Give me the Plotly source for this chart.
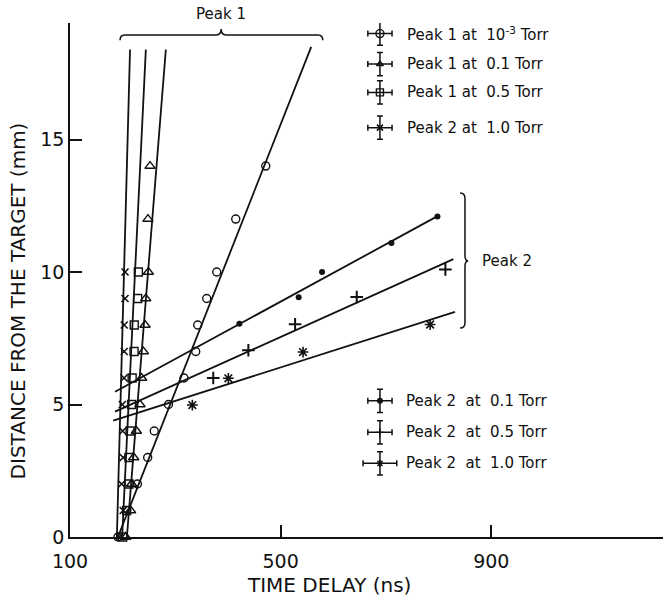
import plotly.graph_objects as go

# ---------------- data ----------------
# Peak 1 at 1e-3 Torr (open circles)
p1_vac_t = [191, 228, 247.5, 260, 287, 316.5, 338.7, 342.5, 359.6, 378.6, 414.7, 471.7]
p1_vac_d = [0, 2, 3, 4, 5, 6, 7, 8, 9, 10, 12, 14]
p1_vac_fit_t = [191, 558]
p1_vac_fit_d = [0, 18.5]

# Peak 1 at 0.1 Torr (open triangles)
p1_01_t = [206, 215, 217, 221, 226, 233, 236, 239.3, 242.5, 243.8, 248.8, 248, 252]
p1_01_d = [0, 1, 2, 3, 4, 5, 6, 7, 8, 9, 10, 12, 14]
p1_01_fit_t = [208, 282]
p1_01_fit_d = [0, 18.4]

# Peak 1 at 0.5 Torr (open squares)
p1_05_t = [200, 207.6, 212, 212, 214, 217, 218, 221.6, 222, 228.5, 229.8]
p1_05_d = [0, 1, 2, 3, 4, 5, 6, 7, 8, 9, 10]
p1_05_fit_t = [199, 244]
p1_05_fit_d = [0, 18.4]

# "Peak 2 at 1.0 Torr" steep series (x marks)
p_x10_t = [193.6, 201, 198, 201, 200, 199.4, 202.6, 203, 203, 204.5, 204.5]
p_x10_d = [0, 1, 2, 3, 4, 5, 6, 7, 8, 9, 10]
p_x10_fit_t = [189, 214]
p_x10_fit_d = [0, 18.4]

# Peak 2 at 0.1 Torr (dots)
p2_01_t = [421.6, 534.2, 578.6, 710.3, 797.7]
p2_01_d = [8.05, 9.05, 10.0, 11.1, 12.1]
p2_01_fit_t = [185.5, 797]
p2_01_fit_d = [5.48, 12.1]

# Peak 2 at 0.5 Torr (plus)
p2_05_t = [372, 438.7, 527.4, 644.5, 812.8]
p2_05_d = [6.0, 7.05, 8.03, 9.06, 10.1]
p2_05_fit_t = [185.5, 828]
p2_05_fit_d = [4.73, 10.49]

# Peak 2 at 1.0 Torr (asterisks)
p2_10_t = [332.3, 400.7, 542.5, 783.8]
p2_10_d = [4.98, 5.99, 6.98, 8.02]
p2_10_fit_t = [182, 831]
p2_10_fit_d = [4.39, 8.5]

x_ticks = [100, 500, 900]
y_ticks = [0, 5, 10, 15]

NB = "\u00a0"
legend_top_labels = [f"Peak 1 at{NB}{NB}10<sup>-3</sup>{NB}Torr", f"Peak 1 at{NB}{NB}0.1 Torr",
                     f"Peak 1 at{NB}{NB}0.5 Torr", f"Peak 2 at{NB}{NB}1.0 Torr"]
legend_bot_labels = [f"Peak 2{NB}{NB}at{NB}{NB}0.1 Torr", f"Peak 2{NB}{NB}at{NB}{NB}0.5 Torr",
                     f"Peak 2{NB}{NB}at{NB}{NB}1.0 Torr"]

# ---------------- styling / layout ----------------
FONT = "DejaVu Sans"
BLACK = "#111"
X_RANGE = [100, 1226]
Y_RANGE = [0, 19.4]

fig = go.Figure()

def add_fit(t, d):
    fig.add_trace(go.Scatter(x=t, y=d, mode="lines", line=dict(color=BLACK, width=1.8),
                             showlegend=False, hoverinfo="skip", cliponaxis=False))

def add_pts(t, d, symbol, size, lw=1.4, name=""):
    fig.add_trace(go.Scatter(x=t, y=d, mode="markers", name=name, showlegend=False,
                             cliponaxis=False,
                             marker=dict(symbol=symbol, size=size, color=BLACK,
                                         line=dict(color=BLACK, width=lw))))

for t, d in [(p1_vac_fit_t, p1_vac_fit_d), (p1_01_fit_t, p1_01_fit_d),
             (p1_05_fit_t, p1_05_fit_d), (p_x10_fit_t, p_x10_fit_d),
             (p2_01_fit_t, p2_01_fit_d), (p2_05_fit_t, p2_05_fit_d),
             (p2_10_fit_t, p2_10_fit_d)]:
    add_fit(t, d)

add_pts(p1_vac_t, p1_vac_d, "circle-open", 8, name="Peak 1 at 1e-3 Torr")
add_pts(p1_01_t, p1_01_d, "triangle-up-open", 9, name="Peak 1 at 0.1 Torr")
add_pts(p1_05_t, p1_05_d, "square-open", 8, name="Peak 1 at 0.5 Torr")
add_pts(p_x10_t, p_x10_d, "x-thin-open", 7, lw=1.6, name="Peak 2 at 1.0 Torr (steep)")
add_pts(p2_01_t, p2_01_d, "circle", 6, lw=0, name="Peak 2 at 0.1 Torr")
add_pts(p2_05_t, p2_05_d, "cross-thin-open", 9, lw=2.0, name="Peak 2 at 0.5 Torr")
add_pts(p2_10_t, p2_10_d, "asterisk-open", 9, lw=1.6, name="Peak 2 at 1.0 Torr")

# ---------- legend keys (drawn as error-bar crosses) ----------
KEY_T = 688.5
TEXT_T = 736
top_key_d = [19.0, 17.85, 16.78, 15.45]
bot_key_d = [5.14, 3.95, 2.78]
top_syms = [("circle-open", 8, 1.4), ("triangle-up-open", 6, 1.4),
            ("square-open", 7, 1.4), ("x-thin-open", 6, 1.6)]
bot_syms = [("circle", 6, 0), ("cross-thin-open", 6, 1.4), ("asterisk-open", 6, 1.4)]
bot_xerr = [23, 23, 32]

def add_key(yv, sym, xerr):
    s, sz, lw = sym
    fig.add_trace(go.Scatter(
        x=[KEY_T], y=[yv], mode="markers", showlegend=False, hoverinfo="skip", cliponaxis=False,
        error_x=dict(type="constant", value=xerr, color=BLACK, thickness=1.5, width=3),
        error_y=dict(type="constant", value=0.44, color=BLACK, thickness=1.5, width=3),
        marker=dict(symbol=s, size=sz, color=BLACK, line=dict(color=BLACK, width=lw))))

for yv, sym in zip(top_key_d, top_syms):
    add_key(yv, sym, 23)
for yv, sym, xe in zip(bot_key_d, bot_syms, bot_xerr):
    add_key(yv, sym, xe)

TXT = dict(family=FONT, size=15, color=BLACK)
annotations = []
for yv, lab in zip(top_key_d, legend_top_labels):
    annotations.append(dict(x=TEXT_T, y=yv, text=lab, xanchor="left", yanchor="middle",
                            showarrow=False, font=TXT))
for yv, lab in zip(bot_key_d, legend_bot_labels):
    annotations.append(dict(x=TEXT_T - 2, y=yv, text=lab, xanchor="left", yanchor="middle",
                            showarrow=False, font=TXT))

# brace labels
annotations.append(dict(x=387, xref="x", y=1.017, yref="paper", text="Peak 1", showarrow=False,
                        xanchor="center", yanchor="middle", font=TXT))
annotations.append(dict(x=879, y=10.42, text="Peak 2", showarrow=False, xanchor="left",
                        yanchor="middle", font=TXT))

# axis titles
TITLE = dict(family=FONT, size=20, color=BLACK)
annotations.append(dict(x=0.437, y=-0.093, xref="paper", yref="paper", text="TIME DELAY (ns)",
                        showarrow=False, xanchor="center", yanchor="middle", font=TITLE))
annotations.append(dict(x=-0.088, y=0.46, xref="paper", yref="paper",
                        text="DISTANCE FROM THE TARGET (mm)", textangle=-90,
                        showarrow=False, xanchor="center", yanchor="middle", font=TITLE))

# braces
brace1 = ("M 195,18.75 Q 195,18.95 204,18.95 L 378,18.95 Q 387,18.95 387,19.17 "
          "Q 387,18.95 396,18.95 L 571,18.95 Q 580,18.95 580,18.75")
brace2 = ("M 840.7,12.98 Q 850,12.98 850,12.78 L 850,10.62 Q 850,10.42 856,10.42 "
          "Q 850,10.42 850,10.22 L 850,8.09 Q 850,7.89 840.7,7.89")
shapes = [dict(type="path", path=brace1, xref="x", yref="y", line=dict(color=BLACK, width=1.5)),
          dict(type="path", path=brace2, xref="x", yref="y", line=dict(color=BLACK, width=1.5))]

TICKF = dict(family=FONT, size=19, color=BLACK)
fig.update_layout(
    width=663, height=598,
    margin=dict(l=70, r=0, t=23, b=61),
    paper_bgcolor="white", plot_bgcolor="white",
    font=dict(family=FONT, color=BLACK),
    annotations=annotations, shapes=shapes,
    showlegend=False,
    xaxis=dict(range=X_RANGE, tickvals=x_ticks, ticktext=[str(v) for v in x_ticks],
               ticks="inside", ticklen=12, tickwidth=1.5, tickcolor=BLACK, ticklabelstandoff=6,
               showline=True, linecolor=BLACK, linewidth=1.5, showgrid=False, zeroline=False,
               tickfont=TICKF),
    yaxis=dict(range=Y_RANGE, tickvals=y_ticks, ticktext=[str(v) for v in y_ticks],
               ticks="inside", ticklen=12, tickwidth=1.5, tickcolor=BLACK,
               showline=True, linecolor=BLACK, linewidth=1.5, showgrid=False, zeroline=False,
               tickfont=TICKF),
)

fig.write_html("out.html")
